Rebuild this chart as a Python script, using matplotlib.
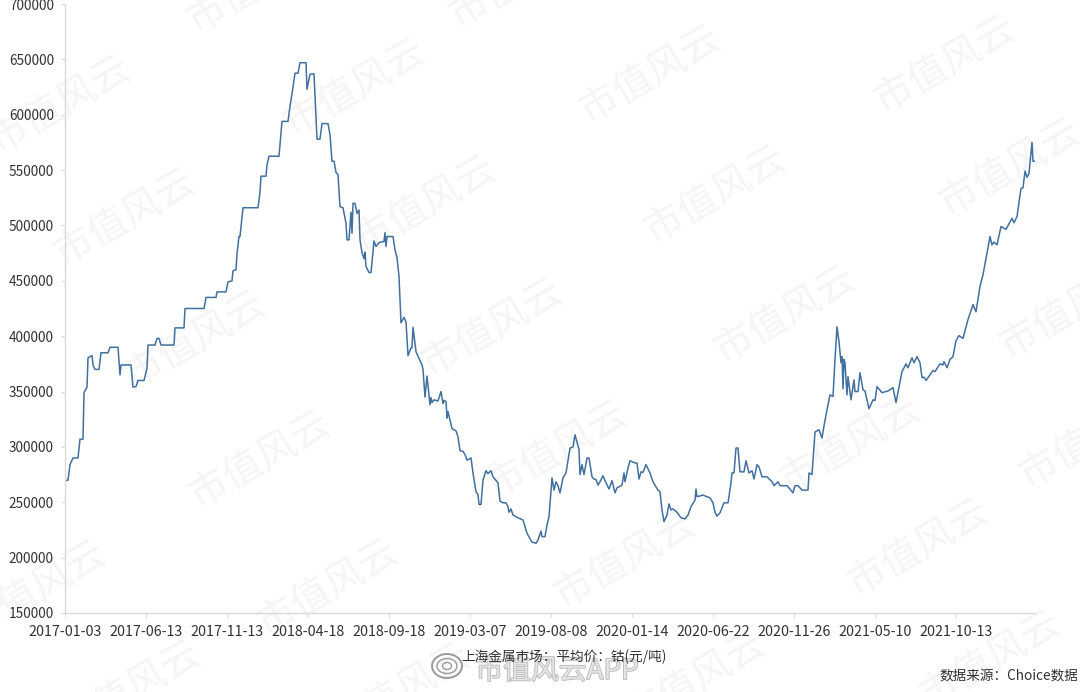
import matplotlib
matplotlib.use("Agg")
import matplotlib.pyplot as plt
from matplotlib.patches import Ellipse
import matplotlib.patheffects as pe

plt.rcParams['font.family'] = ['Noto Sans CJK SC', 'DejaVu Sans']

# category position of each observation (one tick label every 81 positions)
session = [0,3,5,8,13,15,18,19,22,23,27,28,30,34,36,43,45,53,55,56,66,68,71,73,79,82,83,90,92,94,96,109,110,119,120,139,141,151,152,161,
163,167,168,171,172,174,175,178,193,195,196,201,202,204,214,217,223,225,228,230,233,235,241,242,245,249,252,255,257,263,265,267,269,271,273,275,278,281,282,284,286,287,288,290,292,294,295,297,299,300,301,304,306,309,311,314,319,320,321,322,328,330,332,334,336,339,341,343,346,347,348,351,353,357,358,
360,362,365,366,367,369,373,376,378,379,381,382,383,387,391,393,395,398,400,402,406,408,411,413,414,416,418,421,423,426,428,433,435,438,441,443,444,446,448,453,458,462,467,471,473,476,477,480,482,484,487,489,491,493,495,498,501,505,508,510,514,515,517,519,522,524,527,529,531,533,535,
538,540,544,547,550,552,557,559,560,563,565,570,572,574,576,578,581,585,588,593,595,597,599,602,604,606,608,612,616,620,623,626,630,631,632,638,642,645,648,650,652,655,659,663,666,667,669,671,673,675,679,681,684,687,689,692,694,697,702,707,709,713,
715,722,728,730,733,737,743,744,747,750,754,757,759,762,765,768,770,772,774,776,777,778,779,780,782,783,786,789,790,793,795,798,800,804,808,810,812,817,823,828,831,835,837,841,
843,847,849,852,855,857,859,861,868,870,875,878,879,882,885,888,891,894,898,903,908,911,915,918,922,925,927,929,932,936,941,947,949,952,956,958,960,962,964,967,968,969]

price_k = [269.5,270,284,290,290,307,307,349,354,380.5,382.5,374,370,370,385,385,390,390,365,374,374,354,354.5,360,360,371,392,392,398,398,392,392,407.5,407.5,425,425,435,435,440,440,
449,450,459,460,474.5,490,490,516,516,530,544.5,544.5,555,562.5,562.5,594,594,607.5,625,637.5,637.5,647,647,623,636.5,637,578,578,592,592,582,558,558,548,546,517,516,502,487,487,512,493,520,520,511,514,487,475.5,470,476,463,457.5,457.5,486,481,484.5,485.5,493.5,481,490,490,478,471,454,412,417,413,382.5,389.5,389.5,408,386,382,374,370,
345,364,338,344.5,340,342.5,341.5,350,339,342,341,326,332,316.5,314.5,309,296.5,296,293,288,290,276.5,259.5,257,248,248,270,278.5,276,278.5,273,267.5,251,249.5,249.5,246,241,244,238.5,236,234,222,214,213,216,224,219,219,229.5,237,272,261,268.5,265,258.5,272,276.5,299,300,311,297.5,275,284,275,290,290,273,271,270.5,265.5,268.5,
274,269.5,262,269.5,258.5,263,265.5,276.5,268.5,281,287.5,285.5,285.5,271,277.5,277,284,276.5,268.5,261,259.5,243,232.5,238.5,248.5,243,244,241,236,235,238.5,246,252,262,255,256.5,255,254,249.5,241,237.5,240.5,249.5,249.5,267.5,276.5,276.5,299,299,277.5,277.5,287.5,276.5,278.5,271,284,282,273,273,268.5,265,268.5,
265,265,258.5,265,265,261,261,276.5,275,313.5,315.5,308,319,333.5,347,345.5,379,408.5,395,376,381.5,352.5,379,376,347,363.5,342.5,360.5,350,350,367,351.5,350.5,334.5,342.5,342,354.5,349,350.5,353.5,340,359,368,375,
371.5,380.5,376,381.5,376,362.5,363,360,369,368,375,374,377,371.5,379,381.5,396,400.5,398,415,428.5,422,445,455.5,475.5,490,482.5,485,482.5,499,496.5,506.5,502.5,508,533.5,534,549,543.5,547,575,558,558]

tick_labels = ["2017-01-03","2017-06-13","2017-11-13","2018-04-18","2018-09-18","2019-03-07",
               "2019-08-08","2020-01-14","2020-06-22","2020-11-26","2021-05-10","2021-10-13"]
y_ticks = [150000,200000,250000,300000,350000,400000,450000,500000,550000,600000,650000,700000]
axis_title = "上海金属市场：平均价：钴(元/吨)"
source = "数据来源：Choice数据"
watermark = "市值风云"
wm_centres = [(650,75),(945,65),(60,105),(125,218),(355,88),(425,205),(715,195),(1010,168),(195,340),
              (492,328),(785,315),(1070,310),(260,460),(557,450),(850,445),(35,590),(328,588),(625,560),
              (918,548),(130,690),(695,680),(990,660),(258,-15),(520,-20),(1090,440),(400,692)]

W, H = 1080, 692
fig = plt.figure(figsize=(W/100, H/100), dpi=100, facecolor='white')
ax = fig.add_axes([65/W, 1-613/H, 970/W, 609/H])
ax.set_facecolor('none')
ax.set_zorder(2)

def fx(x): return x/W
def fy(y): return 1-y/H

for cx, cy in wm_centres:
    fig.text(fx(cx), fy(cy), watermark, fontsize=28, color='#f5f5f5', rotation=30,
             ha='center', va='center', rotation_mode='anchor', zorder=0)

ax.plot(session, [p*1000 for p in price_k], color='#41709f', lw=1.1, solid_joinstyle='round')
ax.set_xlim(0, 970)
ax.set_ylim(150000, 700000)
ax.set_xticks([i*81 for i in range(len(tick_labels))])
ax.set_xticklabels(tick_labels)
ax.set_yticks(y_ticks)
ax.set_yticklabels([str(v) for v in y_ticks])
ax.tick_params(axis='both', labelcolor='#333333', color='#d9d9d9', length=3, width=0.8)
ax.tick_params(axis='x', labelsize=10.3, pad=6)
ax.tick_params(axis='y', labelsize=9.8, pad=5)
for s in ('top','right'):
    ax.spines[s].set_visible(False)
for s in ('left','bottom'):
    ax.spines[s].set_color('#d9d9d9')
    ax.spines[s].set_linewidth(1.0)

fig.text(fx(564), fy(657), axis_title, fontsize=9.8, color='#333333', ha='center', va='center', zorder=5)
fig.text(fx(1078), fy(676), source, fontsize=9.8, color='#333333', ha='right', va='center', zorder=5)

# weibo-style stamp at the bottom
fig.text(fx(557), fy(671), "市值风云APP", fontsize=20, color='#e4e4e4', ha='center', va='center', zorder=4,
         path_effects=[pe.withStroke(linewidth=1.2, foreground='#b8b8b8')])
for w, h, lw in [(30,24,1.4),(20,15,1.0),(9,7,1.0)]:
    fig.add_artist(Ellipse((fx(447), fy(666)), w/W, h/H, transform=fig.transFigure, fill=False,
                           ec='#9a9a9a', lw=lw, zorder=4))

fig.savefig("out.png", dpi=100)
